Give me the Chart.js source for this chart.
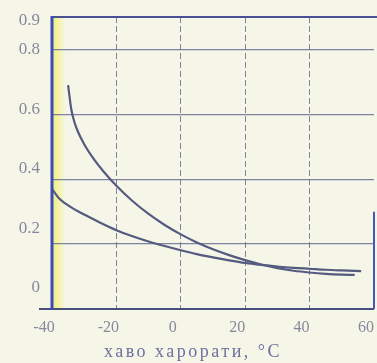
<!DOCTYPE html>
<html>
<head>
<meta charset="utf-8">
<script src="https://cdn.jsdelivr.net/npm/chart.js@4/dist/chart.umd.min.js"></script>
<style>
  html, body { margin: 0; padding: 0; background: #f6f6e8; }
  canvas { display: block; }
</style>
</head>
<body>
<canvas id="chart" width="377" height="363"></canvas>
<script>
// температура воздуха, °C
const tempUpper = [-35, -34, -33, -32, -30, -27, -24, -20, -15, -10, -5, 0, 5, 10, 15, 20, 25, 30, 35, 40, 45, 50, 54];
const valUpper = [0.69, 0.615, 0.575, 0.548, 0.508, 0.462, 0.424, 0.38, 0.333, 0.293, 0.259, 0.23, 0.205, 0.184, 0.166, 0.1505, 0.137, 0.126, 0.118, 0.1125, 0.1085, 0.106, 0.105];

const tempLower = [-40, -38, -36, -33, -30, -25, -20, -15, -10, -5, 0, 5, 10, 15, 20, 25, 30, 35, 40, 45, 50, 56];
const valLower = [0.37, 0.343, 0.326, 0.307, 0.291, 0.266, 0.243, 0.224, 0.208, 0.194, 0.181, 0.169, 0.159, 0.15, 0.142, 0.136, 0.131, 0.127, 0.124, 0.121, 0.119, 0.117];

const xTicks = [-40, -20, 0, 20, 40, 60];
const yTicks = [0, 0.2, 0.4, 0.6, 0.8, 0.9];
const xTitle = 'хаво харорати, °C';

const lineColor = '#555a80';
const gridColor = 'rgba(105, 110, 150, 0.85)';
const labelColor = '#86889c';
const serif = '"Liberation Serif", "DejaVu Serif", serif';

function toPoints(xs, ys) {
  return xs.map((x, i) => ({ x: x, y: ys[i] }));
}

// фон, жёлтая полоса у оси, рамка и подпись оси
const paperPlugin = {
  id: 'paper',
  beforeDraw(chart) {
    const { ctx, chartArea: a } = chart;
    ctx.save();
    ctx.fillStyle = '#f6f6e8';
    ctx.fillRect(0, 0, chart.width, chart.height);
    const g = ctx.createLinearGradient(a.left, 0, a.left + 14, 0);
    g.addColorStop(0, 'rgba(238, 238, 80, 0.75)');
    g.addColorStop(1, 'rgba(238, 238, 80, 0)');
    ctx.fillStyle = g;
    ctx.fillRect(a.left, a.top, 14, a.bottom - a.top);
    ctx.restore();
  },
  afterDraw(chart) {
    const { ctx, chartArea: a, scales } = chart;
    ctx.save();
    ctx.lineCap = 'butt';
    // нижняя ось
    ctx.strokeStyle = '#4a4f7e';
    ctx.lineWidth = 2;
    ctx.beginPath();
    ctx.moveTo(a.left - 13, a.bottom);
    ctx.lineTo(a.right, a.bottom);
    ctx.stroke();
    // верхняя рамка
    ctx.strokeStyle = '#4a5296';
    ctx.beginPath();
    ctx.moveTo(a.left, a.top);
    ctx.lineTo(chart.width, a.top);
    ctx.stroke();
    // правая рамка
    ctx.strokeStyle = '#4658b0';
    ctx.beginPath();
    ctx.moveTo(a.right, scales.y.getPixelForValue(0.3));
    ctx.lineTo(a.right, a.bottom);
    ctx.stroke();
    // левая ось
    ctx.strokeStyle = '#3c4cb4';
    ctx.lineWidth = 3;
    ctx.beginPath();
    ctx.moveTo(a.left, a.top - 1);
    ctx.lineTo(a.left, a.bottom + 1);
    ctx.stroke();
    // подпись оси X
    ctx.fillStyle = '#6b6f9c';
    ctx.font = '18px ' + serif;
    ctx.letterSpacing = '2.5px';
    ctx.textAlign = 'center';
    ctx.textBaseline = 'middle';
    ctx.fillText(xTitle, (a.left + a.right) / 2 - 20, scales.x.bottom - 11);
    ctx.restore();
  }
};

const edgeHidden = (ends) => (c) => ends.includes(c.tick.value) ? 'transparent' : gridColor;

new Chart(document.getElementById('chart'), {
  type: 'line',
  data: {
    datasets: [
      {
        data: toPoints(tempUpper, valUpper),
        borderColor: lineColor,
        borderWidth: 2.2,
        pointRadius: 0,
        cubicInterpolationMode: 'monotone'
      },
      {
        data: toPoints(tempLower, valLower),
        borderColor: lineColor,
        borderWidth: 2.2,
        pointRadius: 0,
        cubicInterpolationMode: 'monotone'
      }
    ]
  },
  options: {
    responsive: false,
    animation: false,
    layout: { padding: { top: 17, right: 3, left: 0, bottom: 0 } },
    plugins: { legend: { display: false }, tooltip: { enabled: false } },
    scales: {
      x: {
        type: 'linear',
        min: -40,
        max: 60,
        afterBuildTicks: (s) => { s.ticks = xTicks.map(v => ({ value: v })); },
        afterFit: (s) => { s.height = 54; s.paddingLeft = 0; s.paddingRight = 0; },
        ticks: { color: labelColor, font: { family: serif, size: 16 }, padding: 9, labelOffset: -8, maxRotation: 0 },
        grid: { color: edgeHidden([-40, 60]), lineWidth: 1, drawTicks: false },
        border: { display: false, dash: [6, 3] }
      },
      y: {
        min: 0,
        max: 0.9,
        weight: 0,
        afterBuildTicks: (s) => { s.ticks = yTicks.map(v => ({ value: v })); },
        afterFit: (s) => { s.width = 0; },
        ticks: { display: false },
        grid: { color: edgeHidden([0, 0.9]), lineWidth: 1.3, drawTicks: false },
        border: { display: false }
      },
      // шкала подписей по оси Y
      yLabels: {
        position: 'left',
        min: -0.0706,
        max: 0.911,
        weight: 1,
        afterBuildTicks: (s) => { s.ticks = yTicks.map(v => ({ value: v })); },
        afterFit: (s) => { s.width = 52; },
        ticks: { color: labelColor, font: { family: serif, size: 17 }, padding: 4 },
        grid: { display: false },
        border: { display: false }
      }
    }
  },
  plugins: [paperPlugin]
});
</script>
</body>
</html>
